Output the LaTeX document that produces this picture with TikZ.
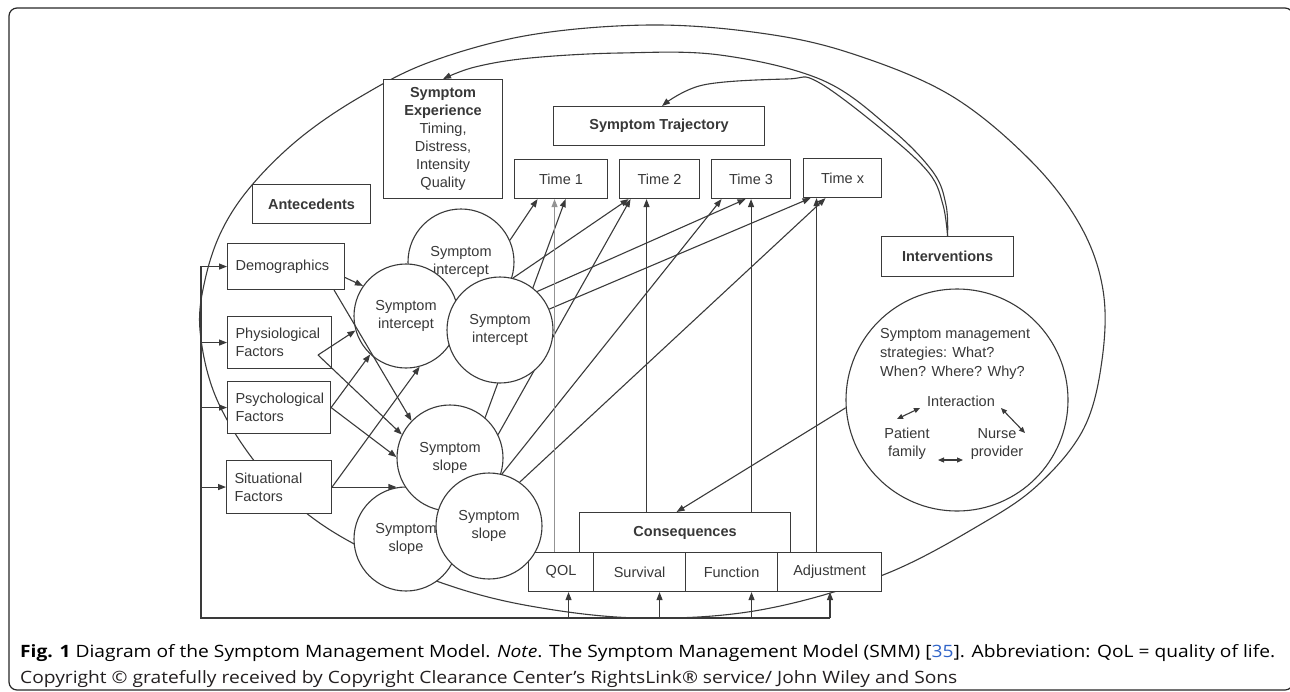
\documentclass[tikz,border=0pt]{standalone}
\usepackage{fontspec}
\setmainfont{Liberation Sans}
\newfontfamily\capfont{Open Sans}
\usepackage{graphicx}
\usetikzlibrary{arrows.meta,backgrounds,calc}
\definecolor{ink}{HTML}{3A3A3A}
\definecolor{txt}{HTML}{383838}
\definecolor{captxt}{HTML}{231F20}
\definecolor{refblue}{HTML}{2F63C8}
\newsavebox\capboxA
\newcommand\dfont{\fontsize{14.5}{18}\selectfont}
\begin{document}
\sbox\capboxA{\capfont\fontsize{17}{20}\selectfont\textbf{Fig. 1} Diagram of the Symptom Management Model. \textit{Note}. The Symptom Management Model (SMM) [\textcolor{refblue}{35}]. Abbreviation: QoL = quality of life.}
\pgfmathsetmacro\capsx{1255/\the\wd\capboxA}
\begin{tikzpicture}[x=1pt,y=-1pt,
  box/.style={draw=ink, line width=1.1pt, fill=white, inner sep=0pt, anchor=north west, text=txt, font=\dfont, align=center},
  lbox/.style={box, align=left, inner xsep=8pt},
  circ/.style={circle, draw=ink, line width=1.1pt, fill=white, inner sep=0pt, text=txt, align=center, font=\dfont},
  txtn/.style={inner sep=0pt, text=txt, font=\dfont},
  con/.style={draw=ink, line width=1.1pt},
  arr/.style={con, -{Triangle[length=8pt,width=6pt]}},
  dbl/.style={con, {Triangle[length=6pt,width=5pt]}-{Triangle[length=6pt,width=5pt]}}]
\useasboundingbox (0,0) rectangle (1290,691);
\draw[line width=1.2pt, draw=black!85, rounded corners=8pt] (9,8) rectangle (1293,690);

% boxes
\node[box, minimum width=119pt, minimum height=119pt] (exp) at (383,79) {\textbf{Symptom}\\\textbf{Experience}\\Timing,\\Distress,\\Intensity\\Quality};
\node[box, minimum width=118pt, minimum height=39pt] (ante) at (252,184) {\textbf{Antecedents}};
\node[box, minimum width=211pt, minimum height=39pt] (traj) at (553,106) {\textbf{Symptom Trajectory}};
\node[box, minimum width=93pt, minimum height=39pt] (t1) at (514,159) {Time 1};
\node[box, minimum width=80pt, minimum height=39pt] (t2) at (619,159) {Time 2};
\node[box, minimum width=79pt, minimum height=39pt] (t3) at (711,159) {Time 3};
\node[box, minimum width=78pt, minimum height=39pt] (tx) at (803,158) {Time x};
\node[box, minimum width=132pt, minimum height=40pt] (interv) at (881,236) {\textbf{Interventions}};
\node[lbox, text width=101pt, minimum height=46pt] (demo) at (227,243) {Demographics};
\node[lbox, text width=88pt, minimum height=52pt] (phys) at (227,316) {Physiological\\Factors};
\node[lbox, text width=87pt, minimum height=52pt] (psych) at (227,381) {Psychological\\Factors};
\node[lbox, text width=89pt, minimum height=53pt] (situ) at (226,460) {Situational\\Factors};
\node[box, minimum width=211pt, minimum height=40pt] (cons) at (579,512) {\textbf{Consequences}};
\node[box, minimum width=65pt, minimum height=39pt] (qol) at (528,552) {QOL};
\node[box, minimum width=92pt, minimum height=39pt] (surv) at (593,552) {Survival};
\node[box, minimum width=92pt, minimum height=39pt] (func) at (685,552) {Function};
\node[box, minimum width=104pt, minimum height=39pt] (adj) at (777,552) {Adjustment};

% circles
\node[circ, minimum size=106pt] (C1) at (461,262) {Symptom\\intercept};
\node[circ, minimum size=104pt] (C2) at (406,316) {Symptom\\intercept};
\node[circ, minimum size=106pt] (C3) at (500,330) {Symptom\\intercept};
\node[circ, minimum size=104pt] (S2) at (406,539) {Symptom\\slope};
\node[circ, minimum size=106pt] (S1) at (450,458) {Symptom\\slope};
\node[circ, minimum size=106pt] (S3) at (489,526) {Symptom\\slope};

% strategies circle
\node[circ, minimum size=222pt] (strat) at (957,400) {};
\node[txtn, anchor=north west, align=left, font=\fontsize{14.5}{19}\selectfont] (stext) at (880,328.5) {Symptom management\\strategies: What?\\When? Where? Why?};
\node[txtn] (inter) at (961,401) {Interaction};
\node[txtn, align=center] (patient) at (907,444) {Patient\\family};
\node[txtn, align=center] (nurse) at (997,444) {Nurse\\provider};
\coordinate (pa1) at (897,419); \coordinate (pa2) at (920,408);
\coordinate (pb1) at (1001,408); \coordinate (pb2) at (1025,433);
\coordinate (pc1) at (938,460); \coordinate (pc2) at (963,460);
\draw[dbl] (pa1) -- (pa2);
\draw[dbl] (pb1) -- (pb2);
\draw[dbl] (pc1) -- (pc2);

% feedback frame
\coordinate (fbTop) at (201,266);
\coordinate (fbBot) at (201,618);
\coordinate (fbR) at (830,618);

\begin{scope}[on background layer]
  % large ellipse
  \draw[con] plot[smooth cycle, tension=0.6] coordinates {(200,330) (205,280) (222,230) (252,185) (300,138) (360,97) (430,62) (530,35) (650,25) (760,33) (850,53) (950,95) (1030,160) (1080,225) (1103,290) (1102,360) (1084,428) (1040,483) (983,523) (883,575) (760,610) (640,618) (530,606) (442,583) (358,546) (300,508) (252,458) (215,395)};
  % circles to time points
  \draw[arr] (C1.24) -- ([xshift=-23.5]t1.south);
  \draw[arr] (S1.49) -- ([xshift=4.5]t1.south);
  \draw[arr] (C3.76) -- ([xshift=-31]t2.south);
  \draw[arr] (S1.26) -- ([xshift=-29]t2.south);
  \draw[arr] (C3.46) -- ([xshift=-5.5]t3.south);
  \draw[arr] (C3.23) -- ([xshift=-32]tx.south);
  \draw[arr] (S3.76) -- ([xshift=-29.5]t3.south);
  \draw[arr] (S3.55) -- ([xshift=-17]tx.south);
  % consequences to time points
  \draw[arr, draw=ink!55] ([xshift=-6.5]qol.north) -- ([xshift=-6.5]t1.south);
  \draw[arr] ([xshift=-13]t2.south |- cons.north) -- ([xshift=-13]t2.south);
  \draw[arr] (t3.south |- cons.north) -- (t3.south);
  \draw[arr] ([xshift=-26]tx.south |- adj.north) -- ([xshift=-26]tx.south);
  % feedback
  \draw[con] (fbTop) -- (fbBot) -- (fbR);
  % interventions feedback curves
  \draw[arr] plot[smooth, tension=0.6] coordinates {(interv.north) (946,205) (933,172) (890,128) (822,80) (720,55) (620,53) (530,58) (475,67) (exp.north)};
  \draw[arr] plot[smooth, tension=0.6] coordinates {(interv.north) (943,205) (929,173) (885,132) (818,82) (787,79) (703,85) ([xshift=3]traj.north)};
\end{scope}

\draw[arr] (demo.west -| fbTop) -- (demo.west);
\draw[arr] (phys.west -| fbTop) -- (phys.west);
\draw[arr] (psych.west -| fbTop) -- (psych.west);
\draw[arr] (situ.west -| fbTop) -- (situ.west);
\draw[arr] ([xshift=7.5]qol.south |- fbBot) -- ([xshift=7.5]qol.south);
\draw[arr] ([xshift=20]surv.south |- fbBot) -- ([xshift=20]surv.south);
\draw[arr] ([xshift=20]func.south |- fbBot) -- ([xshift=20]func.south);
\draw[arr] (fbR) -- (fbR |- adj.south);

% antecedents to symptom circles
\coordinate (physV) at (318,355);
\draw[arr] ([yshift=-11]demo.east) -- (C2.145);
\draw[arr] ([xshift=-11]demo.south east) -- (S1.136);
\draw[arr] (physV) -- (C2.196);
\draw[arr] (physV) -- (S1.154);
\draw[arr] (psych.east) -- (C2.227);
\draw[arr] (psych.east) -- (S1.179);
\draw[arr] (situ.east) -- (C2.-75);
\draw[arr] (situ.east) -- (situ.east -| S1.west);

% strategies to consequences
\draw[arr] (strat.184) -- ([xshift=-8.5]cons.north);

% caption
\node[anchor=base west, inner sep=0pt, text=captxt] (cap1) at (20,657) {\scalebox{\capsx}[1]{\usebox\capboxA}};
\node[anchor=base west, inner sep=0pt, text=captxt] (cap2) at (20,683) {\scalebox{\capsx}[1]{\capfont\fontsize{17}{20}\selectfont Copyright © gratefully received by Copyright Clearance Center’s RightsLink® service/ John Wiley and Sons}};
\end{tikzpicture}
\end{document}
